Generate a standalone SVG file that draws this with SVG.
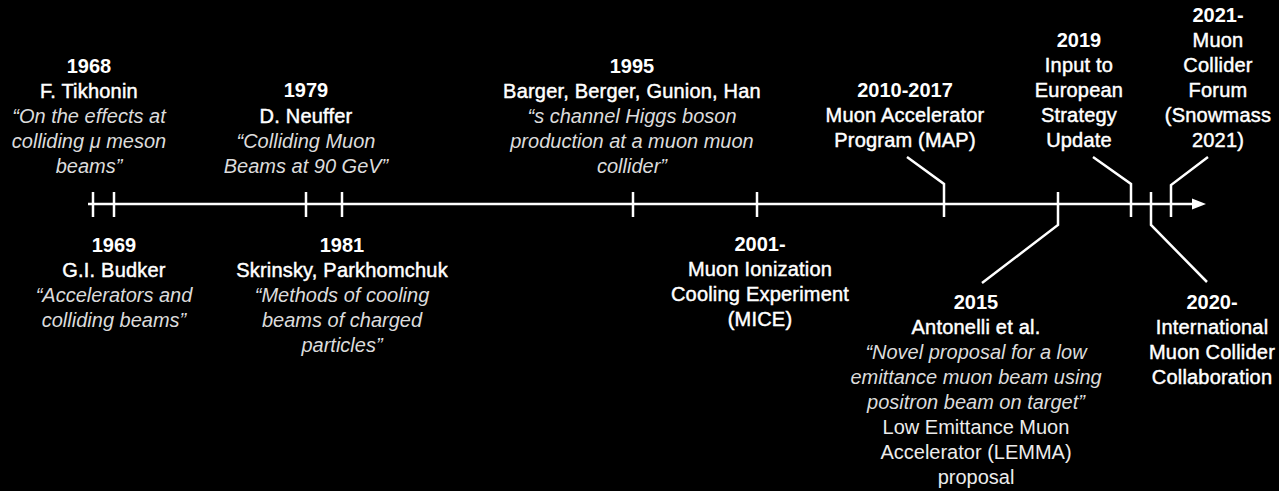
<svg xmlns="http://www.w3.org/2000/svg" width="1279" height="491" viewBox="0 0 1279 491">
<defs>
<style>
text{font-family:"Liberation Sans",Arial,sans-serif;font-size:20px;text-anchor:middle;fill:#fff}
.y{font-weight:bold}
.n{stroke:#fff;stroke-width:0.45;letter-spacing:0.2px}
.i{font-style:italic;fill:#dcdcdc}
.l{fill:#ececec}
.c{stroke:#fff;stroke-width:2.5;fill:none;stroke-linejoin:miter}
</style>
</defs>
<rect width="1279" height="491" fill="#000"/>
<g id="connectors">
<line class="c" x1="88" y1="204" x2="1194" y2="204"/>
<polygon points="1192,198.5 1206,204 1192,209.5" fill="#fff"/>
<line class="c" x1="93" y1="192" x2="93" y2="217"/>
<line class="c" x1="114" y1="192" x2="114" y2="217"/>
<line class="c" x1="306" y1="192" x2="306" y2="217"/>
<line class="c" x1="342" y1="192" x2="342" y2="217"/>
<line class="c" x1="633" y1="192" x2="633" y2="217"/>
<line class="c" x1="757" y1="192" x2="757" y2="217"/>
<polyline class="c" points="944,217 944,184 907,157"/>
<polyline class="c" points="1131,217 1131,184 1093,157"/>
<polyline class="c" points="1171,217 1171,185 1208,157"/>
<polyline class="c" points="1058,192 1058,225 982,283"/>
<polyline class="c" points="1151,192 1151,225 1207,282"/>
</g>
<g id="n1968">
<text class="y" x="89" y="73">1968</text>
<text class="n" x="89" y="98">F. Tikhonin</text>
<text class="i" x="89" y="123">“On the effects at</text>
<text class="i" x="89" y="148">colliding μ meson</text>
<text class="i" x="89" y="173">beams”</text>
</g>
<g id="n1979">
<text class="y" x="306" y="97">1979</text>
<text class="n" x="306" y="123">D. Neuffer</text>
<text class="i" x="306" y="148">“Colliding Muon</text>
<text class="i" x="306" y="173">Beams at 90 GeV”</text>
</g>
<g id="n1995">
<text class="y" x="632" y="73">1995</text>
<text class="n" x="632" y="98">Barger, Berger, Gunion, Han</text>
<text class="i" x="632" y="123">“s channel Higgs boson</text>
<text class="i" x="632" y="148">production at a muon muon</text>
<text class="i" x="632" y="173">collider”</text>
</g>
<g id="n1969">
<text class="y" x="114" y="252">1969</text>
<text class="n" x="114" y="277">G.I. Budker</text>
<text class="i" x="114" y="302">“Accelerators and</text>
<text class="i" x="114" y="327">colliding beams”</text>
</g>
<g id="n1981">
<text class="y" x="342" y="252">1981</text>
<text class="n" x="342" y="277">Skrinsky, Parkhomchuk</text>
<text class="i" x="342" y="302">“Methods of cooling</text>
<text class="i" x="342" y="327">beams of charged</text>
<text class="i" x="342" y="352">particles”</text>
</g>
<g id="n2001">
<text class="y" x="760" y="251">2001-</text>
<text class="n" x="760" y="276">Muon Ionization</text>
<text class="n" x="760" y="301">Cooling Experiment</text>
<text class="n" x="760" y="326">(MICE)</text>
</g>
<g id="n2010">
<text class="y" x="905" y="97">2010-2017</text>
<text class="n" x="905" y="122">Muon Accelerator</text>
<text class="n" x="905" y="147">Program (MAP)</text>
</g>
<g id="n2019">
<text class="y" x="1079" y="47">2019</text>
<text class="n" x="1079" y="72">Input to</text>
<text class="n" x="1079" y="97">European</text>
<text class="n" x="1079" y="122">Strategy</text>
<text class="n" x="1079" y="147">Update</text>
</g>
<g id="n2021">
<text class="y" x="1218" y="22">2021-</text>
<text class="n" x="1218" y="47">Muon</text>
<text class="n" x="1218" y="72">Collider</text>
<text class="n" x="1218" y="97">Forum</text>
<text class="n" x="1218" y="122">(Snowmass</text>
<text class="n" x="1218" y="147">2021)</text>
</g>
<g id="n2015">
<text class="y" x="976" y="309">2015</text>
<text class="n" x="976" y="334">Antonelli et al.</text>
<text class="i" x="976" y="359">“Novel proposal for a low</text>
<text class="i" x="976" y="384">emittance muon beam using</text>
<text class="i" x="976" y="409">positron beam on target”</text>
<text class="l" x="976" y="434">Low Emittance Muon</text>
<text class="l" x="976" y="459">Accelerator (LEMMA)</text>
<text class="l" x="976" y="484">proposal</text>
</g>
<g id="n2020">
<text class="y" x="1212" y="309">2020-</text>
<text class="n" x="1212" y="334">International</text>
<text class="n" x="1212" y="359">Muon Collider</text>
<text class="n" x="1212" y="384">Collaboration</text>
</g>
</svg>
